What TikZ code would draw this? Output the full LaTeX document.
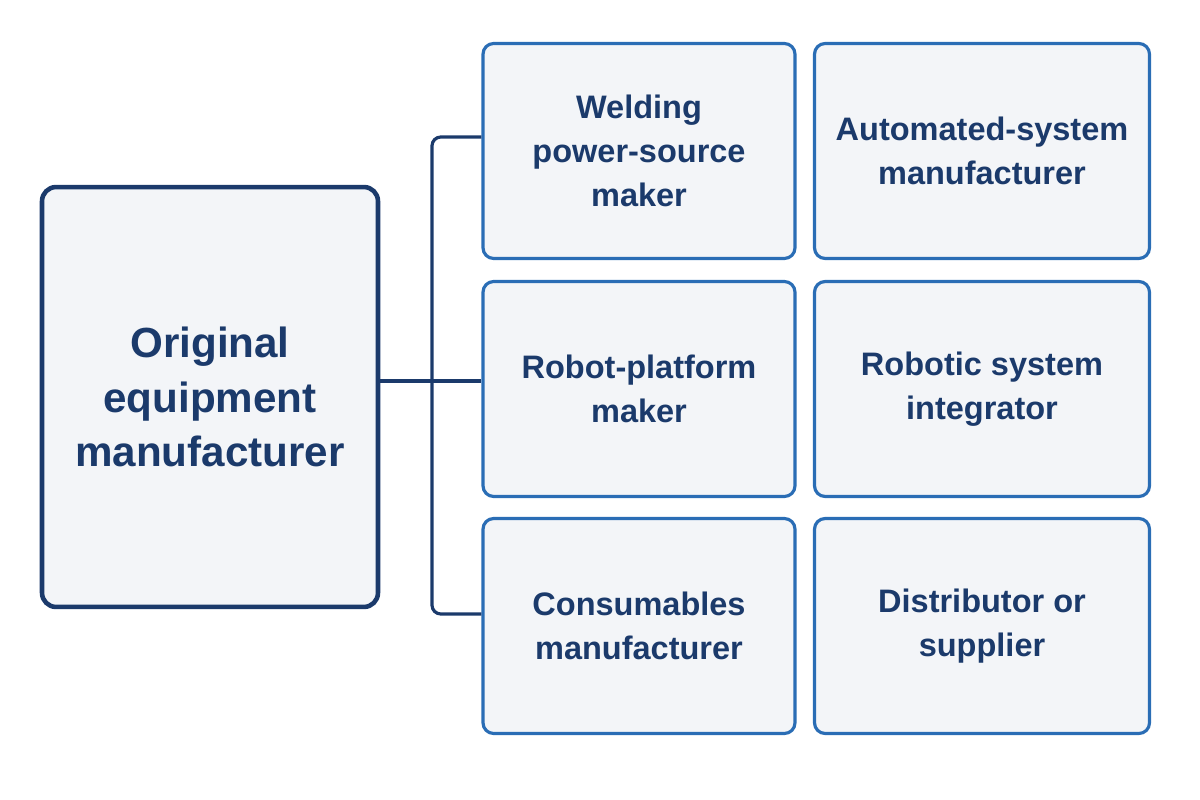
\documentclass[tikz,border=0pt]{standalone}
\usepackage{fontspec}
\setmainfont{Liberation Sans}
\usetikzlibrary{positioning}
\definecolor{navy}{HTML}{1B3A6B}
\definecolor{boxblue}{HTML}{2A6DB5}
\definecolor{boxfill}{HTML}{F3F5F8}
\tikzset{
    % The large box on the left
    main box/.style={
        draw=navy, line width=2.6pt, rounded corners=8pt, fill=boxfill,
        minimum width=6.72cm, minimum height=8.4cm, align=center,
        text=navy, font=\fontsize{24}{31}\selectfont\bfseries},
    % The smaller role boxes
    role box/.style={
        draw=boxblue, line width=1.8pt, rounded corners=6pt, fill=boxfill,
        minimum width=6.24cm, minimum height=4.3cm, align=center,
        text=navy, font=\fontsize{18.5}{25}\selectfont\bfseries},
    % Connector lines
    link/.style={draw=navy, line width=1.8pt}}

\begin{document}
\begin{tikzpicture}[x=0.02cm, y=-0.02cm]
\useasboundingbox (0,0) rectangle (1200,800);

% Original equipment manufacturer
\node[main box] (oem) at (210,397) {Original\\equipment\\manufacturer};

% First column of roles
\node[role box] (welding) at (639,151) {Welding\\power-source\\maker};
\node[role box] (robot) at (639,389) {Robot-platform\\maker};
\node[role box] (consumables) at (639,626) {Consumables\\manufacturer};

% Second column of roles
\node[role box, minimum width=6.7cm] (automated) at (982,151) {Automated-system\\manufacturer};
\node[role box, minimum width=6.7cm] (integrator) at (982,389) {Robotic system\\integrator};
\node[role box, minimum width=6.7cm] (distributor) at (982,626) {Distributor or\\supplier};

% Branching connector
\coordinate (branch) at (432,381);
\draw[link] (oem.east |- branch) -- (branch);
\draw[link, rounded corners=5pt] (welding.west |- 0,137) -- (432,137) -- (432,614) -- (consumables.west |- 0,614);
\draw[link] (branch) -- (robot.west |- branch);
\end{tikzpicture}
\end{document}
